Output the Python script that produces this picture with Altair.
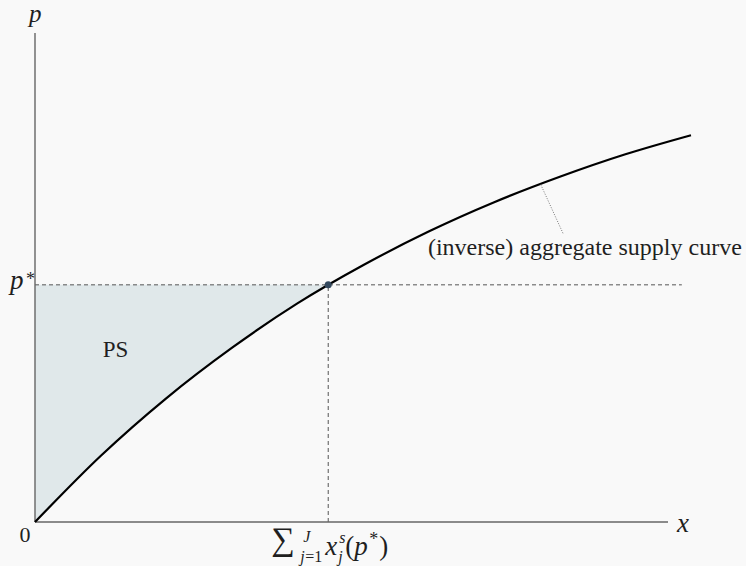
import altair as alt
import pandas as pd

# (inverse) aggregate supply curve: quantity x vs price p
supply_x = [0, 1, 2, 3, 4, 5, 6, 7, 8, 9, 10]
supply_p = [0, 1.35, 2.53, 3.56, 4.47, 5.25, 5.94, 6.54, 7.06, 7.52, 7.91]

# equilibrium quantity and price
x_star = 4.47
p_star = 4.85

# axis extents and guide-line reach
x_axis_end = 9.65
y_axis_end = 10
h_guide_end = 9.86

# leader line from the curve to its label
leader_x = [7.71, 8.05]
leader_y = [6.90, 5.90]

SERIF = "'Liberation Serif', 'DejaVu Serif', serif"
INK = "#1f1f1f"
AXIS = "#666666"
BG = "#f9f9f9"

W, H = 656, 489
xs = alt.Scale(domain=[0, 10], nice=False, zero=False)
ys = alt.Scale(domain=[0, 10], nice=False, zero=False)
noax = dict(axis=None)

curve_df = pd.DataFrame({"x": supply_x, "p": supply_p})

# producer surplus region: between the price line and the curve up to x*
ps_x = [v for v in supply_x if v < x_star] + [x_star]
ps_p = [p for v, p in zip(supply_x, supply_p) if v < x_star] + [p_star]
ps_df = pd.DataFrame({"x": ps_x, "p": ps_p, "top": [p_star] * len(ps_x)})

area = alt.Chart(ps_df).mark_area(color="#e0e8ea", interpolate="monotone", opacity=1).encode(
    x=alt.X("x:Q", scale=xs, **noax),
    y=alt.Y("p:Q", scale=ys, **noax),
    y2="top:Q",
)

axes_df = pd.DataFrame({
    "x": [0, 0], "y": [0, 0], "x2": [x_axis_end, 0], "y2": [0, y_axis_end]
})
axes = alt.Chart(axes_df).mark_rule(color=AXIS, strokeWidth=1.4).encode(
    x=alt.X("x:Q", scale=xs, **noax), y=alt.Y("y:Q", scale=ys, **noax),
    x2="x2:Q", y2="y2:Q",
)

guides_df = pd.DataFrame({
    "x": [0, x_star], "y": [p_star, 0], "x2": [h_guide_end, x_star], "y2": [p_star, p_star]
})
guides = alt.Chart(guides_df).mark_rule(color="#555555", strokeWidth=1, strokeDash=[4, 3]).encode(
    x=alt.X("x:Q", scale=xs, **noax), y=alt.Y("y:Q", scale=ys, **noax),
    x2="x2:Q", y2="y2:Q",
)

curve = alt.Chart(curve_df).mark_line(color="#000000", strokeWidth=2.2, interpolate="monotone").encode(
    x=alt.X("x:Q", scale=xs, **noax),
    y=alt.Y("p:Q", scale=ys, **noax),
)

leader_df = pd.DataFrame({"x": [leader_x[0]], "y": [leader_y[0]], "x2": [leader_x[1]], "y2": [leader_y[1]]})
leader = alt.Chart(leader_df).mark_rule(color="#777777", strokeWidth=1, strokeDash=[1, 1.5]).encode(
    x=alt.X("x:Q", scale=xs, **noax), y=alt.Y("y:Q", scale=ys, **noax),
    x2="x2:Q", y2="y2:Q",
)

eq_df = pd.DataFrame({"x": [x_star], "p": [p_star]})
eq_point = alt.Chart(eq_df).mark_point(filled=True, color="#34495e", size=50, opacity=1).encode(
    x=alt.X("x:Q", scale=xs, **noax),
    y=alt.Y("p:Q", scale=ys, **noax),
)


def label(text, x, y, size, dx=0, dy=0, italic=False, align="left"):
    df = pd.DataFrame({"x": [x], "y": [y], "t": [text]})
    return alt.Chart(df).mark_text(
        font=SERIF, fontSize=size, fontStyle="italic" if italic else "normal",
        color=INK, align=align, baseline="alphabetic", dx=dx, dy=dy,
    ).encode(
        x=alt.X("x:Q", scale=xs, **noax),
        y=alt.Y("y:Q", scale=ys, **noax),
        text="t:N",
    )


texts = [
    # axis names and origin
    label("p", 0, y_axis_end, 25, dx=-6, dy=-11.5, italic=True),
    label("x", x_axis_end, 0, 27, dx=9, dy=9.7, italic=True),
    label("0", 0, 0, 22, dx=-10, dy=19.7, align="center"),
    # p* on the price axis
    label("p", 0, p_star, 27, dx=-25, dy=4, italic=True),
    label("*", 0, p_star, 18, dx=-9, dy=0),
    # region and curve names
    label("PS", 1.227, 3.366, 23, align="center"),
    label("(inverse) aggregate supply curve", 5.99, 5.466, 24),
    # sum_{j=1}^{J} x_j^s(p*) under x*
    label("\u2211", x_star, 0, 33, dx=-57, dy=28),
    label("J", x_star, 0, 16, dx=-25, dy=20, italic=True),
    label("j", x_star, 0, 16, dx=-28, dy=40, italic=True),
    label("=1", x_star, 0, 16, dx=-23, dy=40),
    label("x", x_star, 0, 27, dx=-3, dy=32.5, italic=True),
    label("s", x_star, 0, 16, dx=11, dy=21, italic=True),
    label("j", x_star, 0, 16, dx=10, dy=40, italic=True),
    label("(", x_star, 0, 27, dx=17, dy=32.5),
    label("p", x_star, 0, 27, dx=26, dy=32.5, italic=True),
    label("*", x_star, 0, 18, dx=41, dy=22.7),
    label(")", x_star, 0, 27, dx=51, dy=32.5),
]

chart = alt.layer(area, guides, axes, curve, leader, eq_point, *texts).properties(
    width=W,
    height=H,
    autosize=alt.AutoSizeParams(type="none"),
    padding={"left": 35, "top": 33, "right": 746 - 35 - W, "bottom": 566 - 33 - H},
    background=BG,
).configure_view(stroke=None)

chart.save("out.html", embed_options={"renderer": "svg", "actions": False})
